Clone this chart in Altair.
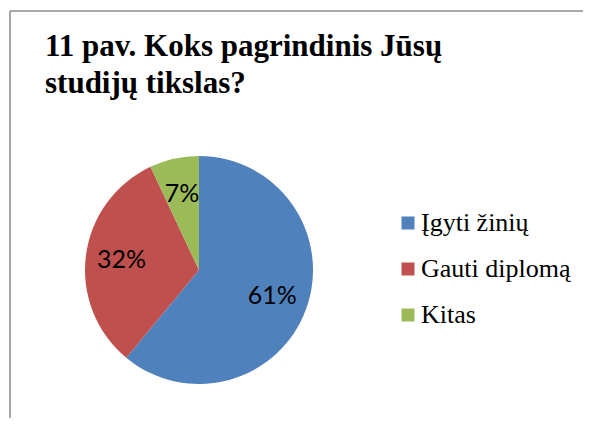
import altair as alt
import pandas as pd

categories = ["Įgyti žinių", "Gauti diplomą", "Kitas"]
values = [61, 32, 7]
labels = ["61%", "32%", "7%"]
colors = ["#4F81BD", "#C0504D", "#9BBB59"]
title_lines = ["11 pav. Koks pagrindinis Jūsų", "studijų tikslas?"]

df = pd.DataFrame({
    "category": categories,
    "value": values,
    "label": labels,
    "idx": list(range(len(categories))),
})

W, H = 573, 407
cx, cy = 189, 259  # pie centre inside the framed area

base = alt.Chart(df).encode(
    theta=alt.Theta("value:Q", stack=True),
    order=alt.Order("idx:O"),
    x=alt.value(cx),
    y=alt.value(cy),
)

pie = base.mark_arc(outerRadius=114, strokeWidth=0).encode(
    color=alt.Color(
        "category:N",
        scale=alt.Scale(domain=categories, range=colors),
        sort=categories,
        legend=alt.Legend(
            title=None,
            orient="none",
            legendX=385,
            legendY=199,
            symbolType="square",
            symbolSize=169,
            symbolStrokeWidth=0,
            labelFont="Liberation Serif",
            labelFontSize=26,
            labelColor="black",
            labelOffset=0,
            rowPadding=20,
            labelLimit=300,
        ),
    )
)

text = base.mark_text(radius=78, font="Lato", fontSize=25, color="black").encode(
    text="label:N"
)

frame_df = pd.DataFrame({"f": [0]})
top_line = alt.Chart(frame_df).mark_rule(color="#8c8c8c", strokeWidth=1.5).encode(
    x=alt.value(0), x2=alt.value(W), y=alt.value(0)
)
left_line = alt.Chart(frame_df).mark_rule(color="#8c8c8c", strokeWidth=1.5).encode(
    x=alt.value(0), y=alt.value(0), y2=alt.value(H)
)

chart = (
    alt.layer(pie, text, top_line, left_line)
    .properties(
        width=W,
        height=H,
        autosize=alt.AutoSizeParams(type="none"),
        padding={"left": 2, "top": 3, "right": 0, "bottom": 0},
        title=alt.TitleParams(
            text=title_lines,
            anchor="start",
            frame="group",
            orient="top",
            font="Liberation Serif",
            fontSize=31,
            fontWeight="bold",
            color="black",
            baseline="top",
            lineHeight=37,
            offset=0,
            dx=35,
            dy=90,
        ),
    )
    .configure_view(stroke=None)
)

chart.save("out.html", embed_options={"renderer": "svg", "actions": False})
